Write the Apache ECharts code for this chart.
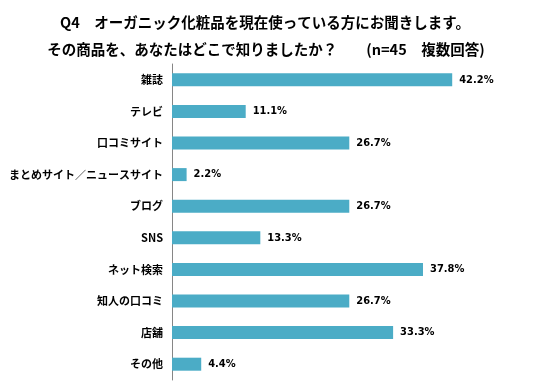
<!DOCTYPE html>
<html><head><meta charset="utf-8">
<script src="https://cdn.jsdelivr.net/npm/echarts@6/dist/echarts.min.js"></script>
<style>html,body{margin:0;padding:0;background:#fff}#c{width:535px;height:386px}</style>
</head><body><div id="c"></div>
<script>
const categories = ['雑誌','テレビ','口コミサイト','まとめサイト／ニュースサイト','ブログ','SNS','ネット検索','知人の口コミ','店舗','その他'];
const values = [42.2, 11.1, 26.7, 2.2, 26.7, 13.3, 37.8, 26.7, 33.3, 4.4];
const titleLine1 = 'Q4　オーガニック化粧品を現在使っている方にお聞きします。';
const titleLine2 = 'その商品を、あなたはどこで知りましたか？　　(n=45　複数回答)';

const chart = echarts.init(document.getElementById('c'));
const jp = '"Noto Sans CJK JP", sans-serif';
chart.setOption({
  animation: false,
  backgroundColor: '#fff',
  title: [
    {text: titleLine1, left: 260, top: 10, textAlign: 'center',
     textStyle: {fontFamily: jp, fontSize: 14.5, fontWeight: 'bold', color: '#000'}},
    {text: titleLine2, left: 261, top: 37, textAlign: 'center',
     textStyle: {fontFamily: jp, fontSize: 14.5, fontWeight: 'bold', color: '#000'}}
  ],
  grid: {left: 172, top: 64, width: 332, height: 316, outerBoundsMode: 'none', containLabel: false},
  xAxis: {type: 'value', min: 0, max: 50, show: false},
  yAxis: {
    type: 'category', data: categories, inverse: true,
    axisLine: {lineStyle: {color: '#868686', width: 1}},
    axisTick: {show: false},
    axisLabel: {margin: 9, fontFamily: jp, fontSize: 11, fontWeight: 'bold', color: '#000'}
  },
  series: [{
    type: 'bar', data: values, barWidth: 13,
    itemStyle: {color: '#4bacc6'},
    label: {show: true, position: 'right', distance: 7,
      formatter: p => p.value.toFixed(1) + '%',
      fontFamily: '"DejaVu Sans Condensed", sans-serif', fontSize: 11, fontWeight: 'bold', color: '#000'}
  }]
});
</script></body></html>
